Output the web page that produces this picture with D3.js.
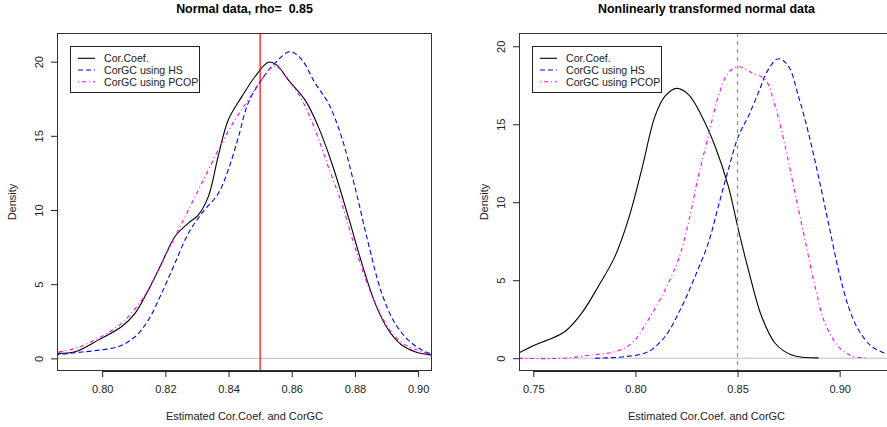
<!DOCTYPE html>
<html>
<head>
<meta charset="utf-8">
<script src="https://cdn.jsdelivr.net/npm/d3@7"></script>
<style>
  body { margin: 0; background: #fff; }
  svg { display: block; font-family: "Liberation Sans", Arial, sans-serif; }
  text { white-space: pre; }
</style>
</head>
<body>
<svg id="chart" width="887" height="427"></svg>
<script>
// ---- data (x = estimate, y = density) ----
var leftCor = [[0.785,0.34],[0.7914,0.45],[0.7987,1.23],[0.8061,2.13],[0.8104,3.03],[0.8146,4.6],[0.8188,6.4],[0.823,8.2],[0.8272,9.1],[0.8304,9.66],[0.8336,10.9],[0.8367,13.6],[0.8399,16.07],[0.8442,17.64],[0.8484,19.0],[0.8526,19.96],[0.8552,19.78],[0.8589,18.77],[0.8642,17.42],[0.8684,15.62],[0.8727,13.15],[0.8779,9.55],[0.8822,6.4],[0.8864,3.71],[0.8906,1.91],[0.8948,0.9],[0.899,0.45],[0.9043,0.22]];
var leftHS = [[0.785,0.22],[0.7914,0.38],[0.7977,0.52],[0.8051,0.79],[0.8104,1.46],[0.8146,2.58],[0.8188,4.38],[0.823,6.4],[0.8272,8.4],[0.8315,9.77],[0.8367,11.1],[0.8399,12.7],[0.8431,14.9],[0.8462,17.2],[0.8505,18.8],[0.8547,19.9],[0.8595,20.68],[0.8632,20.12],[0.8674,18.55],[0.8716,17.2],[0.8758,14.9],[0.88,11.55],[0.8843,7.7],[0.8885,4.38],[0.8927,2.36],[0.8969,1.23],[0.9012,0.56],[0.9043,0.29]];
var leftPCOP = [[0.785,0.38],[0.7914,0.67],[0.7987,1.35],[0.8061,2.36],[0.8125,3.93],[0.8167,5.5],[0.8209,7.3],[0.8252,9.1],[0.8294,10.9],[0.8336,12.7],[0.8378,14.5],[0.842,16.07],[0.8462,17.4],[0.8505,18.8],[0.8547,19.7],[0.8589,18.77],[0.8632,17.42],[0.8674,15.4],[0.8716,12.9],[0.8758,10.45],[0.88,7.5],[0.8843,4.8],[0.8885,2.8],[0.8927,1.46],[0.8969,0.79],[0.9012,0.45],[0.9043,0.22]];

var rightCor = [[0.741,0.21],[0.7508,0.85],[0.7573,1.18],[0.7655,1.71],[0.7737,2.89],[0.7818,4.6],[0.79,6.53],[0.7965,8.88],[0.8031,12.1],[0.8096,15.52],[0.8145,16.8],[0.8202,17.3],[0.8259,16.91],[0.8325,15.52],[0.839,13.59],[0.8455,11.02],[0.8504,8.24],[0.8553,5.67],[0.8618,2.67],[0.8684,0.96],[0.8765,0.21],[0.8896,0.02]];
var rightHS = [[0.7802,0.0],[0.7949,0.1],[0.8063,0.42],[0.8145,1.39],[0.8227,3.31],[0.8292,5.24],[0.8357,7.39],[0.8406,9.74],[0.8455,12.1],[0.8504,14.23],[0.8553,15.52],[0.8602,17.02],[0.8651,18.52],[0.87,19.2],[0.8749,18.73],[0.8798,16.8],[0.8847,14.45],[0.8896,11.66],[0.8945,8.67],[0.8994,5.67],[0.9043,3.31],[0.9092,1.82],[0.9157,0.75],[0.9223,0.32],[0.927,0.2]];
var rightPCOP = [[0.741,0.0],[0.7655,0.0],[0.7786,0.21],[0.79,0.42],[0.7982,0.96],[0.8063,2.46],[0.8145,4.39],[0.821,6.31],[0.8259,8.67],[0.8308,11.66],[0.8357,14.23],[0.8406,16.8],[0.8455,18.3],[0.8504,18.69],[0.8569,18.3],[0.8635,17.87],[0.8684,16.16],[0.8733,13.59],[0.8781,10.6],[0.883,7.6],[0.8879,4.6],[0.8928,2.25],[0.8993,0.75],[0.9059,0.15],[0.914,0.0]];

var legendLabels = ['Cor.Coef.', 'CorGC using HS', 'CorGC using PCOP'];
var leftXTicks = [0.80, 0.82, 0.84, 0.86, 0.88, 0.90];
var rightXTicks = [0.75, 0.80, 0.85, 0.90];
var yTicks = [0, 5, 10, 15, 20];

var styles = [
    {color: '#000000', dash: null},
    {color: '#0000FF', dash: '5,3'},
    {color: '#FF00FF', dash: '1,3,4,3'}
];

var svg = d3.select('#chart');
var plotTop = 33, plotBottom = 371;

function drawPanel(opt) {
    var x = d3.scaleLinear().domain(opt.xDomain).range([opt.left, opt.right]);
    var y = d3.scaleLinear().domain(opt.yDomain).range([plotBottom, plotTop]);
    var g = svg.append('g');

    g.append('clipPath').attr('id', opt.id)
        .append('rect')
        .attr('x', opt.left).attr('y', plotTop)
        .attr('width', opt.right - opt.left).attr('height', plotBottom - plotTop);

    var plot = g.append('g').attr('clip-path', 'url(#' + opt.id + ')');

    // zero line
    plot.append('line')
        .attr('x1', opt.left).attr('x2', opt.right)
        .attr('y1', y(0)).attr('y2', y(0))
        .attr('stroke', '#BEBEBE').attr('stroke-width', 1);

    // curves
    var line = d3.line()
        .x(function(d) { return x(d[0]); })
        .y(function(d) { return y(d[1]); })
        .curve(d3.curveCatmullRom.alpha(0.5));
    opt.series.forEach(function(s, i) {
        plot.append('path')
            .attr('d', line(s))
            .attr('fill', 'none')
            .attr('stroke', styles[i].color)
            .attr('stroke-width', 1.1)
            .attr('stroke-dasharray', styles[i].dash);
    });

    // reference line at rho
    plot.append('line')
        .attr('x1', x(opt.rho)).attr('x2', x(opt.rho))
        .attr('y1', plotTop).attr('y2', plotBottom)
        .attr('stroke', opt.refColor).attr('stroke-width', 1.2)
        .attr('stroke-dasharray', opt.refDash);

    // axes
    var xAxis = d3.axisBottom(x).tickValues(opt.xTicks)
        .tickFormat(d3.format('.2f')).tickSize(6).tickPadding(8);
    var gx = g.append('g').attr('transform', 'translate(0,' + plotBottom + ')').call(xAxis);
    gx.select('.domain').attr('d', 'M' + x(opt.xTicks[0]) + ',0.5H' + x(opt.xTicks[opt.xTicks.length - 1]))
        .attr('stroke', '#222');
    gx.selectAll('.tick line').attr('stroke', '#222');
    gx.selectAll('.tick text').style('font-size', '11px').attr('fill', '#222');

    var yAxis = d3.axisLeft(y).tickValues(yTicks).tickSize(6).tickPadding(4);
    var gy = g.append('g').attr('transform', 'translate(' + opt.left + ',0)').call(yAxis);
    gy.select('.domain').remove();
    gy.selectAll('.tick line').attr('stroke', '#222');
    gy.selectAll('.tick text')
        .style('font-size', '11px').attr('fill', '#222')
        .attr('x', null).attr('dy', null)
        .attr('text-anchor', 'middle')
        .attr('transform', 'translate(-14,0) rotate(-90)');

    // box
    g.append('rect')
        .attr('x', opt.left + 0.5).attr('y', plotTop + 0.5)
        .attr('width', opt.right - opt.left - 1).attr('height', plotBottom - plotTop - 1)
        .attr('fill', 'none').attr('stroke', '#333');

    // titles
    g.append('text')
        .attr('x', (opt.left + opt.right) / 2).attr('y', 13)
        .attr('text-anchor', 'middle')
        .style('font-size', '12.4px').style('font-weight', 'bold')
        .text(opt.title);
    g.append('text')
        .attr('x', (opt.left + opt.right) / 2).attr('y', 420)
        .attr('text-anchor', 'middle')
        .style('font-size', '11px').attr('fill', '#222')
        .text('Estimated Cor.Coef. and CorGC');
    g.append('text')
        .attr('transform', 'translate(' + opt.yLabelX + ',' + ((plotTop + plotBottom) / 2) + ') rotate(-90)')
        .attr('text-anchor', 'middle')
        .style('font-size', '11px').attr('fill', '#222')
        .text('Density');

    // legend
    var lg = g.append('g').attr('transform', 'translate(' + opt.legendX + ',46)');
    lg.append('rect')
        .attr('x', 0.5).attr('y', 0.5)
        .attr('width', 129).attr('height', 46)
        .attr('fill', '#fff').attr('stroke', '#222');
    legendLabels.forEach(function(lab, i) {
        var ly = 12.3 + i * 11.7;
        lg.append('line')
            .attr('x1', 8).attr('x2', 25)
            .attr('y1', ly).attr('y2', ly)
            .attr('stroke', styles[i].color).attr('stroke-width', 1.1)
            .attr('stroke-dasharray', styles[i].dash);
        lg.append('text')
            .attr('x', 34).attr('y', ly + 4)
            .style('font-size', '10.6px').attr('fill', '#222')
            .text(lab);
    });
}

drawPanel({
    id: 'clipL', left: 57, right: 432,
    xDomain: [0.7857, 0.9044], yDomain: [-0.85, 21.93],
    series: [leftCor, leftHS, leftPCOP],
    xTicks: leftXTicks, rho: 0.85, refColor: '#FF0000', refDash: null,
    title: 'Normal data, rho=  0.85', yLabelX: 16, legendX: 70
});

drawPanel({
    id: 'clipR', left: 519, right: 894,
    xDomain: [0.743, 0.9266], yDomain: [-0.82, 20.85],
    series: [rightCor, rightHS, rightPCOP],
    xTicks: rightXTicks, rho: 0.85, refColor: '#3CCB3C', refDash: '4,4',
    title: 'Nonlinearly transformed normal data', yLabelX: 488, legendX: 532
});
</script>
</body>
</html>
